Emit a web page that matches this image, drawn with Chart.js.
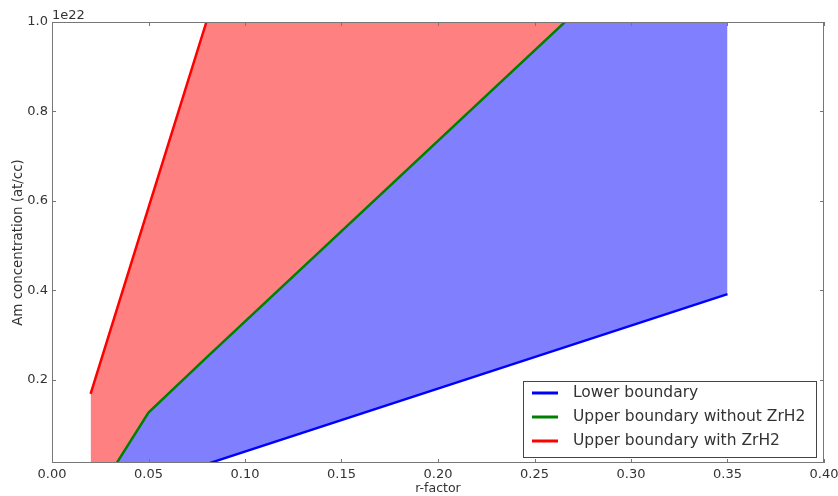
<!DOCTYPE html>
<html>
<head>
<meta charset="utf-8">
<script src="https://cdn.jsdelivr.net/npm/chart.js@4.4.1/dist/chart.umd.min.js"></script>
<style>
  html, body { margin: 0; padding: 0; background: #fff; }
  #wrap { width: 838px; height: 496px; }
</style>
</head>
<body>
<div id="wrap"><canvas id="amChart"></canvas></div>
<script>
// r-factor sample points (shared by all curves)
const rFactor = [0.02, 0.05, 0.08, 0.35];
// Am concentration, at/cc
const lowerBoundary = [-0.073e22, -0.031e22, 0.012e22, 0.392e22];
const upperNoZrH2 = [-0.078e22, 0.127e22, 0.25e22, 1.34e22];
const upperWithZrH2 = [0.169e22, 0.585e22, 1.0e22, 4.74e22];

const seriesLabels = ['Lower boundary', 'Upper boundary without ZrH2', 'Upper boundary with ZrH2'];
const xTicks = [0, 0.05, 0.10, 0.15, 0.20, 0.25, 0.30, 0.35, 0.40];
const yTicks = [0.2e22, 0.4e22, 0.6e22, 0.8e22, 1.0e22];

const FONT = 'DejaVu Sans';
const TXT = '#333';

function pts(ys) {
    return rFactor.map((x, i) => ({ x: x, y: ys[i] }));
}

// frame, inward ticks, 1e22 offset and legend (matplotlib look)
const mplPlugin = {
    id: 'mpl',
    afterDraw(chart) {
        const ctx = chart.ctx;
        const a = chart.chartArea;
        const xs = chart.scales.x, ys = chart.scales.y;
        ctx.save();
        ctx.strokeStyle = '#777';
        ctx.lineWidth = 1;
        ctx.strokeRect(a.left + 0.5, a.top + 0.5, a.right - a.left - 1, a.bottom - a.top - 1);
        ctx.beginPath();
        xTicks.forEach(v => {
            const px = Math.round(xs.getPixelForValue(v)) + 0.5;
            ctx.moveTo(px, a.bottom); ctx.lineTo(px, a.bottom - 4);
            ctx.moveTo(px, a.top); ctx.lineTo(px, a.top + 4);
        });
        yTicks.forEach(v => {
            const py = Math.round(ys.getPixelForValue(v)) + 0.5;
            ctx.moveTo(a.left, py); ctx.lineTo(a.left + 4, py);
            ctx.moveTo(a.right, py); ctx.lineTo(a.right - 4, py);
        });
        ctx.stroke();

        ctx.fillStyle = TXT;
        ctx.font = '13px ' + FONT;
        ctx.textBaseline = 'alphabetic';
        ctx.textAlign = 'left';
        ctx.fillText('1e22', a.left, a.top - 3);

        // legend box
        const lx = 523, ly = 381, lw = 293, lh = 76;
        ctx.fillStyle = '#fff';
        ctx.fillRect(lx, ly, lw, lh);
        ctx.strokeStyle = '#444';
        ctx.strokeRect(lx + 0.5, ly + 0.5, lw, lh);
        ctx.font = '15.5px ' + FONT;
        ctx.textBaseline = 'middle';
        chart.data.datasets.forEach((ds, i) => {
            const yy = 393 + i * 24;
            ctx.strokeStyle = ds.borderColor;
            ctx.lineWidth = 3;
            ctx.beginPath();
            ctx.moveTo(532, yy); ctx.lineTo(558, yy);
            ctx.stroke();
            ctx.fillStyle = TXT;
            ctx.fillText(ds.label, 573, yy);
        });
        ctx.restore();
    }
};

new Chart(document.getElementById('amChart'), {
    type: 'line',
    data: {
        datasets: [{
            label: seriesLabels[0],
            data: pts(lowerBoundary),
            borderColor: '#0000ff',
            borderWidth: 2.5,
            pointRadius: 0,
            fill: false
        }, {
            label: seriesLabels[1],
            data: pts(upperNoZrH2),
            borderColor: '#008000',
            borderWidth: 2.5,
            pointRadius: 0,
            fill: { target: 0 },
            backgroundColor: '#8080ff'
        }, {
            label: seriesLabels[2],
            data: pts(upperWithZrH2),
            borderColor: '#ff0000',
            borderWidth: 2.5,
            pointRadius: 0,
            fill: { target: 1 },
            backgroundColor: '#ff8080'
        }]
    },
    options: {
        responsive: true,
        maintainAspectRatio: false,
        animation: false,
        layout: { padding: { left: 0, right: 14, top: 22, bottom: 0 } },
        plugins: { legend: { display: false }, tooltip: { enabled: false } },
        scales: {
            x: {
                type: 'linear',
                min: 0, max: 0.4,
                grid: { display: false, drawTicks: false },
                border: { display: false },
                afterBuildTicks: s => { s.ticks = xTicks.map(v => ({ value: v })); },
                afterFit: s => { s.height = 33; s.paddingLeft = 0; s.paddingRight = 0; },
                ticks: {
                    padding: 4,
                    color: TXT,
                    font: { family: FONT, size: 13 },
                    callback: v => v.toFixed(2),
                    maxRotation: 0
                },
                title: {
                    display: true, text: 'r-factor', color: TXT,
                    font: { family: FONT, size: 12.5 },
                    padding: { top: 0, bottom: 0 }
                }
            },
            y: {
                type: 'linear',
                min: 0.0145e22, max: 1.0e22,
                grid: { display: false, drawTicks: false },
                border: { display: false },
                afterBuildTicks: s => { s.ticks = yTicks.map(v => ({ value: v })); },
                afterFit: s => { s.width = 52; s.paddingTop = 0; s.paddingBottom = 0; },
                ticks: {
                    padding: 4,
                    color: TXT,
                    font: { family: FONT, size: 13 },
                    callback: v => (v / 1e22).toFixed(1)
                },
                title: {
                    display: true, text: 'Am concentration (at/cc)', color: TXT,
                    font: { family: FONT, size: 13.4 },
                    padding: { top: 10, bottom: 0 }
                }
            }
        }
    },
    plugins: [mplPlugin]
});
</script>
</body>
</html>
